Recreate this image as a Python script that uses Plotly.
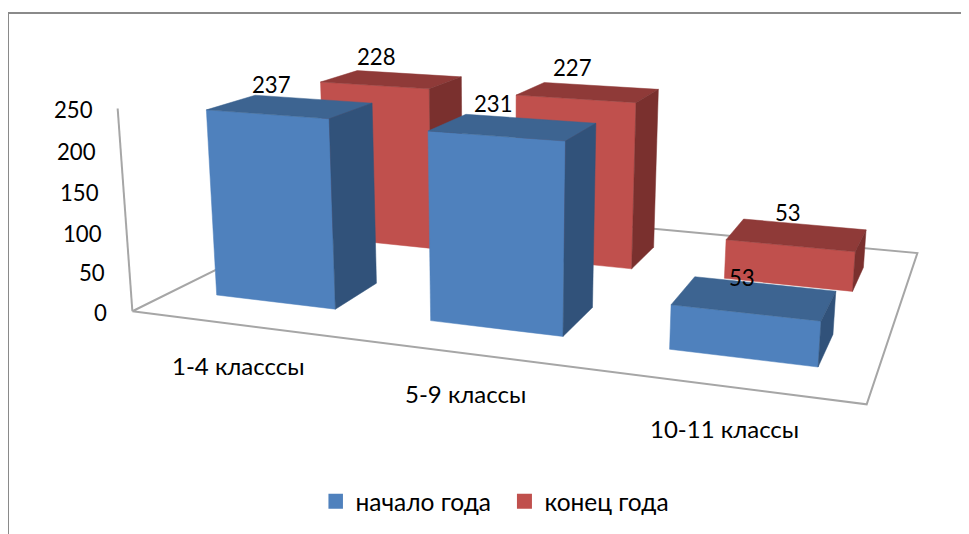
import numpy as np
import plotly.graph_objects as go

categories = ["1-4 класссы", "5-9 классы", "10-11 классы"]
series_names = ["начало года", "конец года"]
start_values = [237, 231, 53]
end_values = [228, 227, 53]
tick_values = [0, 50, 100, 150, 200, 250]
vals = [start_values, end_values]

# Camera of the pseudo-3D view: data (category, series, value) -> screen
EYE = np.array([1.92105, -5.77781, 1.83858])
YAW, PITCH, ROLL = 0.33873, 0.27137, 0.00553
FOCAL, CX, CY = 1423.527, 527.787, 249.374
SY, SZ = 1.014812, 0.003397
BW, BD = 0.56788, 0.39278
XA, XB, YA, YB = -0.49089, 2.49827, -0.50950, 1.53378

def proj(P):
    F = np.array([-np.sin(YAW)*np.cos(PITCH), np.cos(YAW)*np.cos(PITCH), -np.sin(PITCH)])
    R0 = np.array([np.cos(YAW), np.sin(YAW), 0.0])
    U0 = np.cross(R0, F)
    R = np.cos(ROLL)*R0 + np.sin(ROLL)*U0
    U = np.cross(R, F)
    Pn = (np.asarray(P, float) - np.array([1, .5, 0])) * np.array([1, SY, SZ])
    d = Pn - EYE
    D = d @ F
    return np.c_[CX + FOCAL*(d @ R)/D, CY - FOCAL*(d @ U)/D]

COL = {0: ("#4F81BD", "#3D6491", "#31527A"), 1: ("#C0504D", "#8F3A38", "#7A302E")}
fig = go.Figure()

def poly(pts, color, name, v):
    xy = proj(pts)
    fig.add_trace(go.Scatter(x=list(xy[:,0])+[xy[0,0]], y=list(xy[:,1])+[xy[0,1]], mode="lines", fill="toself", fillcolor=color,
        line=dict(color=color, width=0.5), showlegend=False, name=name, hoverinfo="skip", customdata=[v]*(len(xy)+1)))

def bar(i, s, h):
    x0, x1 = i-BW/2, i+BW/2
    y0, y1 = s-BD/2, s+BD/2
    c = COL[s]; n = series_names[s]
    poly([[x0,y0,0],[x1,y0,0],[x1,y0,h],[x0,y0,h]], c[0], n, h)
    poly([[x0,y0,h],[x1,y0,h],[x1,y1,h],[x0,y1,h]], c[1], n, h)
    poly([[x1,y0,0],[x1,y1,0],[x1,y1,h],[x1,y0,h]], c[2], n, h)

line = dict(color="#a6a6a6", width=2)
fl = proj([[XA,YA,0],[XB,YA,0],[XB,YB,0],[XA,YB,0],[XA,YA,0]])
fig.add_trace(go.Scatter(x=fl[:,0], y=fl[:,1], mode="lines", line=line, showlegend=False, hoverinfo="skip"))
az = proj([[XA,YA,0],[XA,YA,tick_values[-1]]])
fig.add_trace(go.Scatter(x=az[:,0], y=az[:,1], mode="lines", line=line, showlegend=False, hoverinfo="skip"))
for s in (1, 0):
    for i in range(3):
        bar(i, s, vals[s][i])
for s, nm in enumerate(series_names):
    fig.add_trace(go.Scatter(x=[None], y=[None], mode="markers", name=nm, marker=dict(symbol="square", size=15, color=COL[s][0])))

NUM = dict(size=22.2, color="black", family="Lato")
CAT = dict(size=24, color="black", family="Lato")
NUDGE = {(0,0):(-19,-22),(0,1):(-15,-23),(1,0):(-20,-24),(1,1):(-16,-25),(2,0):(-13,-20),(2,1):(-9,-22)}
CAT_NUDGE = [(58,9),(42,4),(25,1)]
ann = []
for s in (0, 1):
    for i, v in enumerate(vals[s]):
        q = proj([[i,s,v]])[0]
        ann.append(dict(x=q[0], y=q[1], text=str(v), showarrow=False, font=NUM, xshift=NUDGE[(i,s)][0], yshift=-NUDGE[(i,s)][1]))
for t in tick_values:
    q = proj([[XA,YA,t]])[0]
    ann.append(dict(x=q[0], y=q[1], text=str(t), showarrow=False, font=NUM, xanchor="right", xshift=-23, yshift=-1))
for i, cat in enumerate(categories):
    q = proj([[i,YA-0.4,0]])[0]
    ann.append(dict(x=q[0], y=q[1], text=cat, showarrow=False, font=CAT, xshift=CAT_NUDGE[i][0], yshift=-CAT_NUDGE[i][1]))

fig.update_layout(
    width=969, height=534, margin=dict(l=0,r=0,t=0,b=0), paper_bgcolor="white", plot_bgcolor="white",
    font=dict(family="Lato", size=24.5, color="black"),
    xaxis=dict(visible=False, range=[8,977], fixedrange=True),
    yaxis=dict(visible=False, range=[542,8], fixedrange=True),
    legend=dict(orientation="h", x=0.3307, xanchor="left", y=0.034, yanchor="bottom", font=dict(size=24.5),
                indentation=-13, entrywidth=157, entrywidthmode="pixels"),
    shapes=[dict(type="rect", xref="x", yref="y", x0=8, x1=1100, y0=13, y1=700, line=dict(color="#8a8a8a", width=2))],
    annotations=ann,
)
fig.write_html("out.html")
